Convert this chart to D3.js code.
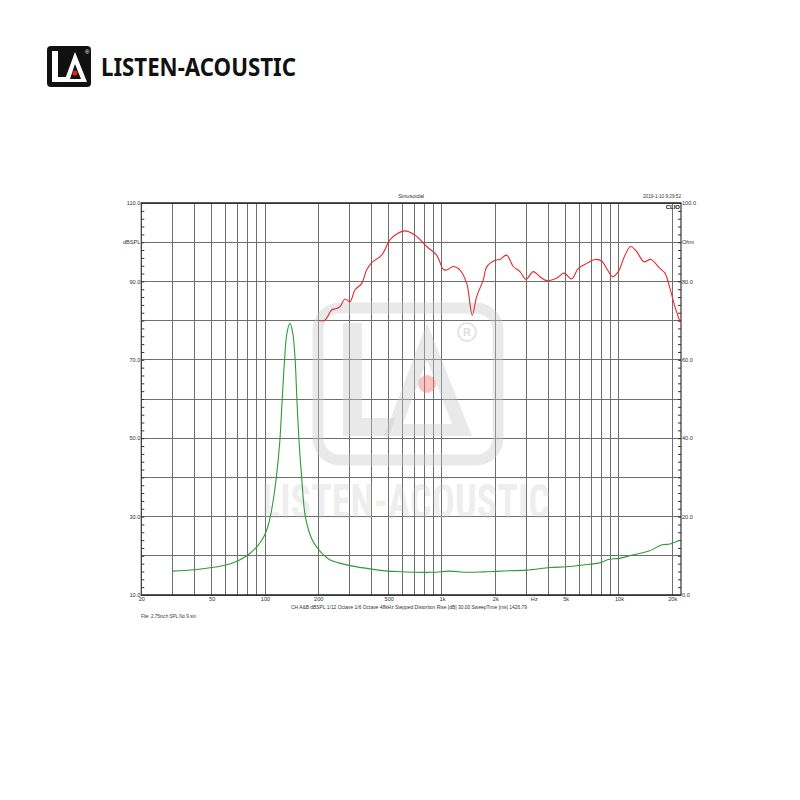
<!DOCTYPE html>
<html><head><meta charset="utf-8">
<script src="https://cdn.jsdelivr.net/npm/d3@7"></script>
<style>body{margin:0;background:#fff}svg{display:block}</style>
</head><body><svg id="c" width="800" height="800"></svg>
<script>
// ---- data ----
const splFreq = [200,218,238,254,265,283,302,322,352,375,401,456,508,555,618,704,819,933,1017,1063,1158,1264,1379,1483,1570,1711,1789,1992,2125,2320,2528,2758,2982,3279,3577,3904,4447,4888,5403,5889,6567,7318,7984,8521,9214,9910,10815,11641,12587,13841,15105,17046,18190,19413,20720,22116];
const splDb   = [80.1,80.1,82.7,83.1,83.5,85.5,84.8,87.8,89.5,92.9,94.8,96.7,100.6,102.1,102.9,101.8,98.9,96.7,93.1,92.9,93.8,92.9,89.5,81.4,86.1,90.4,93.7,95.4,95.6,96.7,93.8,92.5,90.5,92.5,91.2,90.2,90.8,92.1,90.6,93.3,94.6,95.6,95.2,93.3,91.2,92.5,96.7,98.9,97.6,95.0,95.6,93.3,92.1,88.2,83.5,79.7];
const impFreq = [30,40,50,60,70,80,90,95,100,104,108,112,116,121,125,129,133,138.4,143.5,148,151.5,156,161,169,183,196,208,232,260,302,401,498,578,704,892,1106,1379,1711,2125,3004,4077,5049,6259,7755,8826,10049,11922,14768,17518,19413,22116];
const impOhm  = [6.1,6.45,7.0,7.65,8.7,10.2,12.3,13.7,15.5,17.6,20.8,25.0,30.2,38.7,49.7,60.0,66.8,69.3,66.8,60.0,49.7,38.7,30.2,20.0,14.5,12.2,10.8,9.0,8.2,7.5,6.6,6.1,5.95,5.8,5.8,6.1,5.8,5.9,6.1,6.35,7.0,7.2,7.65,8.2,9.1,9.35,10.2,11.2,12.8,13.0,14.0];
const xGrid = [30,40,50,60,70,80,90,100,200,300,400,500,600,700,800,900,1000,2000,3000,4000,5000,6000,7000,8000,9000,10000,20000];
const xTickVals = [20,50,100,200,500,1000,2000,3300,5000,10000,20000];
const xTickLabels = ["20","50","100","200","500","1k","2k","Hz","5k","10k","20k"];
const yLeftTicks = [10,20,30,40,50,60,70,80,90,100,110];
const yLeftLabels = ["10.0","","30.0","","50.0","","70.0","","90.0","dBSPL","110.0"];
const yRightTicks = [0,10,20,30,40,50,60,70,80,90,100];
const yRightLabels = ["0.0","","20.0","","40.0","","60.0","","80.0","Ohm","100.0"];
const titleText = "Sinusoidal";
const dateText = "2019-1-10 9:29:52";
const infoText = "CH A&B   dBSPL   1/12 Octave   1/6 Octave   48kHz   Stepped   Distortion Rise [dB] 30.00   SweepTime [ms] 1426.79";
const fileText = "File: 2.75inch SPL  No 9.sin";
const brandText = "LISTEN-ACOUSTIC";

// ---- layout ----
const L = 141.3, R = 681, T = 203, B = 595;
const svg = d3.select("#c");
const x = d3.scaleLog().domain([20, 22410]).range([L, R]);
const yL = d3.scaleLinear().domain([10, 110]).range([B, T]);
const yR = d3.scaleLinear().domain([0, 100]).range([B, T]);
const font = "'Liberation Sans', Arial, sans-serif";

// ---- header logo ----
const logo = svg.append("g");
logo.append("rect").attr("x",47).attr("y",46).attr("width",44).attr("height",41).attr("rx",4).attr("fill","#111");
logo.append("path").attr("d","M52,51 L58,51 L58,77 L67,77 L65,82 L52,82 Z").attr("fill","#fff");
logo.append("path").attr("d","M64,82 L75,52 L87,82 Z M70,79 L75,64 L81,79 Z").attr("fill","#fff").attr("fill-rule","evenodd");
logo.append("circle").attr("cx",75).attr("cy",73).attr("r",2.6).attr("fill","#e0201e");
logo.append("text").attr("x",85).attr("y",54).attr("font-size",6).attr("fill","#fff").attr("font-family",font).text("®");
svg.append("text").attr("x",101).attr("y",76).attr("font-family","'Noto Sans', 'Open Sans', sans-serif")
  .attr("font-weight",700).attr("font-size",25).attr("fill","#111")
  .attr("textLength",195).attr("lengthAdjust","spacingAndGlyphs").text(brandText);

// ---- grid ----
const grid = svg.append("g").attr("stroke","#6e6e6e").attr("stroke-width",1).attr("shape-rendering","crispEdges");
grid.selectAll("line.v").data(xGrid).join("line").attr("class","v")
  .attr("x1",d=>x(d)).attr("x2",d=>x(d)).attr("y1",T).attr("y2",B);
grid.selectAll("line.h").data(yLeftTicks).join("line").attr("class","h")
  .attr("x1",L).attr("x2",R).attr("y1",d=>yL(d)).attr("y2",d=>yL(d));

// ---- watermark ----
const wm = svg.append("g");
wm.append("rect").attr("x",318).attr("y",308).attr("width",180).attr("height",152).attr("rx",22)
  .attr("fill","none").attr("stroke","rgba(200,200,200,0.4)").attr("stroke-width",11);
wm.append("path").attr("d","M343,323 L362,323 L362,418 L395,418 L389,436 L343,436 Z").attr("fill","rgba(200,200,200,0.4)");
wm.append("path").attr("d","M384,436 L427,323 L472,436 Z M403,424 L427,360 L452,424 Z").attr("fill-rule","evenodd").attr("fill","rgba(200,200,200,0.4)");
wm.append("circle").attr("cx",427).attr("cy",384).attr("r",9).attr("fill","rgba(240,120,120,0.45)");
wm.append("circle").attr("cx",467).attr("cy",332).attr("r",9).attr("fill","none").attr("stroke","rgba(200,200,200,0.5)").attr("stroke-width",2);
wm.append("text").attr("x",463).attr("y",336).attr("font-size",11).attr("font-weight",700).attr("font-family",font).attr("fill","rgba(200,200,200,0.6)").text("R");
wm.append("text").attr("x",262).attr("y",518).attr("font-family","'Roboto Condensed','Liberation Sans Narrow','Roboto',sans-serif")
  .attr("font-weight",700).attr("font-size",48).attr("fill","rgba(195,195,195,0.3)")
  .attr("textLength",288).attr("lengthAdjust","spacingAndGlyphs").text(brandText);

// ---- frame ----
svg.append("line").attr("x1",L-0.5).attr("x2",R+0.5).attr("y1",T).attr("y2",T).attr("stroke","#222").attr("stroke-width",1.6);
svg.append("line").attr("x1",L-0.5).attr("x2",R+0.5).attr("y1",B).attr("y2",B).attr("stroke","#222").attr("stroke-width",1.4);
svg.append("line").attr("x1",L).attr("x2",L).attr("y1",T).attr("y2",B).attr("stroke","#333").attr("stroke-width",1.2);
svg.append("line").attr("x1",R).attr("x2",R).attr("y1",T).attr("y2",B).attr("stroke","#333").attr("stroke-width",1.2);

// ---- axes ----
const minorL = d3.range(10, 111, 2);
const minorR = d3.range(0, 101, 2);
svg.append("g").attr("transform",`translate(${L},0)`)
  .call(d3.axisRight(yL).tickValues(minorL).tickSize(3).tickFormat(""))
  .call(g=>{g.select(".domain").remove(); g.selectAll("line").attr("stroke","#333");});
svg.append("g").attr("transform",`translate(${R},0)`)
  .call(d3.axisLeft(yR).tickValues(minorR).tickSize(3).tickFormat(""))
  .call(g=>{g.select(".domain").remove(); g.selectAll("line").attr("stroke","#333");});
svg.append("g").attr("transform",`translate(${L-1},0)`)
  .call(d3.axisLeft(yL).tickValues(yLeftTicks).tickSize(0).tickPadding(0).tickFormat((d,i)=>yLeftLabels[i]))
  .call(g=>{g.select(".domain").remove(); g.selectAll("text").attr("font-size",5.6).attr("font-family",font).attr("fill","#333");});
svg.append("g").attr("transform",`translate(${R+1},0)`)
  .call(d3.axisRight(yR).tickValues(yRightTicks).tickSize(0).tickPadding(0).tickFormat((d,i)=>yRightLabels[i]))
  .call(g=>{g.select(".domain").remove(); g.selectAll("text").attr("font-size",5.6).attr("font-family",font).attr("fill","#333");});
svg.append("g").attr("transform",`translate(0,${B+2})`)
  .call(d3.axisBottom(x).tickValues(xTickVals).tickSize(0).tickPadding(0).tickFormat((d,i)=>xTickLabels[i]))
  .call(g=>{g.select(".domain").remove(); g.selectAll("text").attr("font-size",5.6).attr("font-family",font).attr("fill","#333");});

// ---- texts ----
svg.append("text").attr("x",(L+R)/2).attr("y",198).attr("text-anchor","middle").attr("font-size",5.6).attr("font-family",font).attr("fill","#333").text(titleText);
svg.append("text").attr("x",643).attr("y",198).attr("font-size",5.6).attr("font-family",font).attr("fill","#333")
  .attr("textLength",38).attr("lengthAdjust","spacingAndGlyphs").text(dateText);
svg.append("text").attr("x",680).attr("y",208.5).attr("text-anchor","end").attr("font-size",6).attr("font-weight",700).attr("font-family",font).attr("fill","#111").text("CLIO");
svg.append("text").attr("x",291).attr("y",609).attr("font-size",5.4).attr("font-family",font).attr("fill","#333")
  .attr("textLength",236).attr("lengthAdjust","spacingAndGlyphs").text(infoText);
svg.append("text").attr("x",141).attr("y",617.5).attr("font-size",5.4).attr("font-family",font).attr("fill","#333")
  .attr("textLength",55).attr("lengthAdjust","spacingAndGlyphs").text(fileText);

// ---- curves ----
const impData = impFreq.map((f,i)=>[f, impOhm[i]]);
const splData = splFreq.map((f,i)=>[f, splDb[i]]);
svg.append("path").datum(impData).attr("fill","none").attr("stroke","#2f9a33").attr("stroke-width",1.1)
  .attr("d", d3.line().x(d=>x(d[0])).y(d=>yR(d[1])).curve(d3.curveCatmullRom.alpha(0.5)));
svg.append("path").datum(splData).attr("fill","none").attr("stroke","#e8282c").attr("stroke-width",1.1)
  .attr("d", d3.line().x(d=>x(d[0])).y(d=>yL(d[1])).curve(d3.curveCatmullRom.alpha(0.5)));
</script></body></html>
